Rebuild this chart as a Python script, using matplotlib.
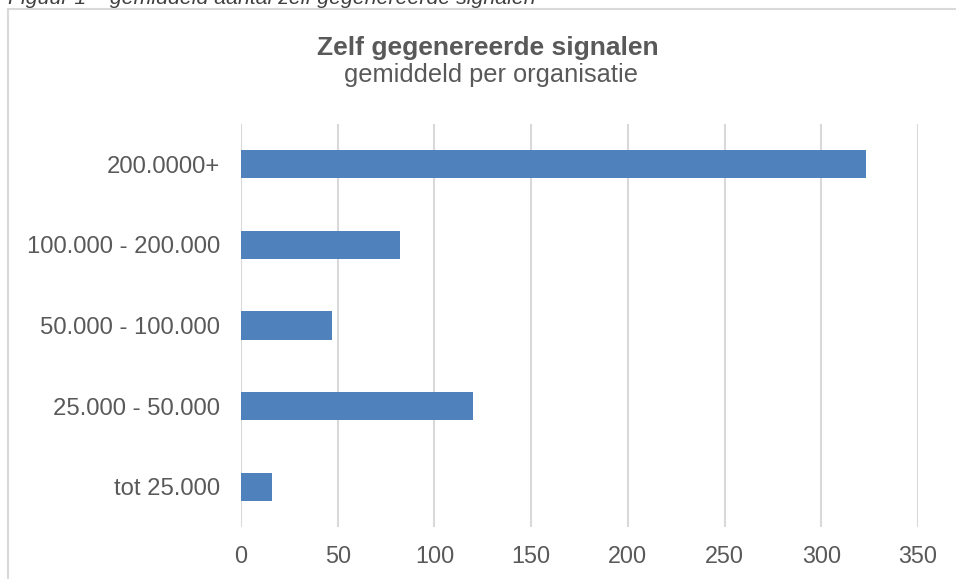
import matplotlib
matplotlib.use("Agg")
import matplotlib.pyplot as plt
from matplotlib.lines import Line2D

categories = ["tot 25.000", "25.000 - 50.000", "50.000 - 100.000", "100.000 - 200.000", "200.0000+"]
values = [16, 120, 47, 82, 323]
x_ticks = [0, 50, 100, 150, 200, 250, 300, 350]

title = "Zelf gegenereerde signalen"
subtitle = "gemiddeld per organisatie"
caption = "Figuur 1 \u2013 gemiddeld aantal zelf gegenereerde signalen"

plt.rcParams["font.family"] = ["Liberation Sans", "DejaVu Sans"]

W, H = 956, 579
fig = plt.figure(figsize=(W / 100, H / 100), dpi=100)
fig.patch.set_facecolor("white")

def fx(px):
    return px / W

def fy(py):
    return 1 - py / H

left, right, top, bottom = 241, 918, 124, 527
ax = fig.add_axes([fx(left), fy(bottom), (right - left) / W, (bottom - top) / H])

text_col = "#595959"
grid_col = "#D9D9D9"
bar_col = "#4F81BD"

ypos = list(range(len(categories)))
ax.barh(ypos, values, height=0.35, color=bar_col, zorder=3)
ax.set_xlim(0, 350)
ax.set_ylim(-0.5, len(categories) - 0.5)
ax.set_xticks(x_ticks)
ax.set_xticklabels([str(t) for t in x_ticks])
ax.set_yticks(ypos)
ax.set_yticklabels(categories)
ax.tick_params(axis="both", length=0, colors=text_col)
ax.tick_params(axis="y", pad=15, labelsize=17.2)
ax.tick_params(axis="x", pad=13, labelsize=16.8)
ax.grid(axis="x", color=grid_col, linewidth=1.5, zorder=0)
for s in ax.spines.values():
    s.set_visible(False)

# chart frame (top and left edges visible)
fig.add_artist(Line2D([fx(8), fx(8)], [fy(9), 0], transform=fig.transFigure,
                      color=grid_col, linewidth=1.5))
fig.add_artist(Line2D([fx(8), 1], [fy(9), fy(9)], transform=fig.transFigure,
                      color=grid_col, linewidth=1.5))

fig.text(fx(488), fy(55), title, ha="center", va="baseline", fontsize=19,
         fontweight="bold", color=text_col)
fig.text(fx(491), fy(82), subtitle, ha="center", va="baseline", fontsize=18.3,
         color=text_col)
fig.text(fx(8), fy(4), caption, ha="left", va="baseline", fontsize=15.3,
         fontstyle="italic", color="#404040")

fig.savefig("out.png", dpi=100)
